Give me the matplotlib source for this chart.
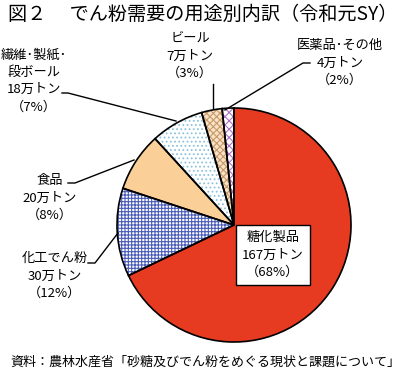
import matplotlib.pyplot as plt

plt.rcParams['font.family'] = ['Noto Sans CJK JP', 'DejaVu Sans']
plt.rcParams['hatch.linewidth'] = 0.8

# starch demand by use (10k tons), clockwise from 12 o'clock
uses = ['糖化製品', '化工でん粉', '食品', '繊維･製紙･\n段ボール', 'ビール', '医薬品･その他']
amounts = [167, 30, 20, 18, 7, 4]
shares = [68, 12, 8, 7, 3, 2]

face_colors = ['#E63B20', 'white', '#FBCF98', 'white', '#F8E2C8', 'white']
hatch_colors = ['#E63B20', '#4A5CB8', '#FBCF98', '#8CC3DC', '#C89A6A', '#B070C8']
hatches = [None, '+++++', None, '....', 'xxxxx', 'xxxx']

W, H = 409, 379
fig = plt.figure(figsize=(W / 100, H / 100), dpi=100)
ax = fig.add_axes([0, 0, 1, 1])

cx, cy, r = 234, H - 225, 117

# fill + hatch pass
wedges, _ = ax.pie(amounts, startangle=90, counterclock=False,
                   center=(cx, cy), radius=r, colors=face_colors,
                   wedgeprops=dict(linewidth=0))
for w, hc, h in zip(wedges, hatch_colors, hatches):
    if h:
        w.set_hatch(h)
        w.set_edgecolor(hc)
# outline pass
ax.pie(amounts, startangle=90, counterclock=False, center=(cx, cy), radius=r,
       colors=['none'] * len(amounts),
       wedgeprops=dict(linewidth=1.2, edgecolor='black', fill=False))

ax.set_xlim(0, W)
ax.set_ylim(0, H)
ax.set_aspect('equal')
ax.axis('off')

def lbl(i):
    return f'{uses[i]}\n{amounts[i]}万トン\n（{shares[i]}%）'

fs = 9.5
ls = 1.45
# label positions in pixels (x, y-center) and leader lines
ax.text(273, H - 255, lbl(0), ha='center', va='center', fontsize=fs, linespacing=ls,
        bbox=dict(boxstyle='square,pad=0.45', fc='white', ec='black', lw=1))
ax.text(55, H - 276, lbl(1), ha='center', va='center', fontsize=fs, linespacing=ls)
ax.text(50, H - 198, lbl(2), ha='center', va='center', fontsize=fs, linespacing=ls)
ax.text(34, H - 81, lbl(3), ha='center', va='center', fontsize=fs, linespacing=ls)
ax.text(190, H - 56, lbl(4), ha='center', va='center', fontsize=fs, linespacing=ls)
ax.text(340, H - 63, lbl(5), ha='center', va='center', fontsize=fs, linespacing=ls)

leaders = [
    [(88, 263), (95, 263), (118, 233)],
    [(68, 183), (75, 183), (134, 160)],
    [(62, 93), (68, 93), (176, 121)],
    [(213, 84), (213, 108)],
    [(310, 63), (303, 63), (225, 110)],
]
for pts in leaders:
    ax.plot([p[0] for p in pts], [H - p[1] for p in pts], color='black', lw=1)

fig.text(8 / W, 1 - 14 / H, '図２　 でん粉需要の用途別内訳（令和元SY）',
         ha='left', va='center', fontsize=13.8)
fig.text(10 / W, 1 - 362 / H, '資料：農林水産省「砂糖及びでん粉をめぐる現状と課題について」',
         ha='left', va='center', fontsize=9.4)

fig.savefig('out.png', dpi=100)
